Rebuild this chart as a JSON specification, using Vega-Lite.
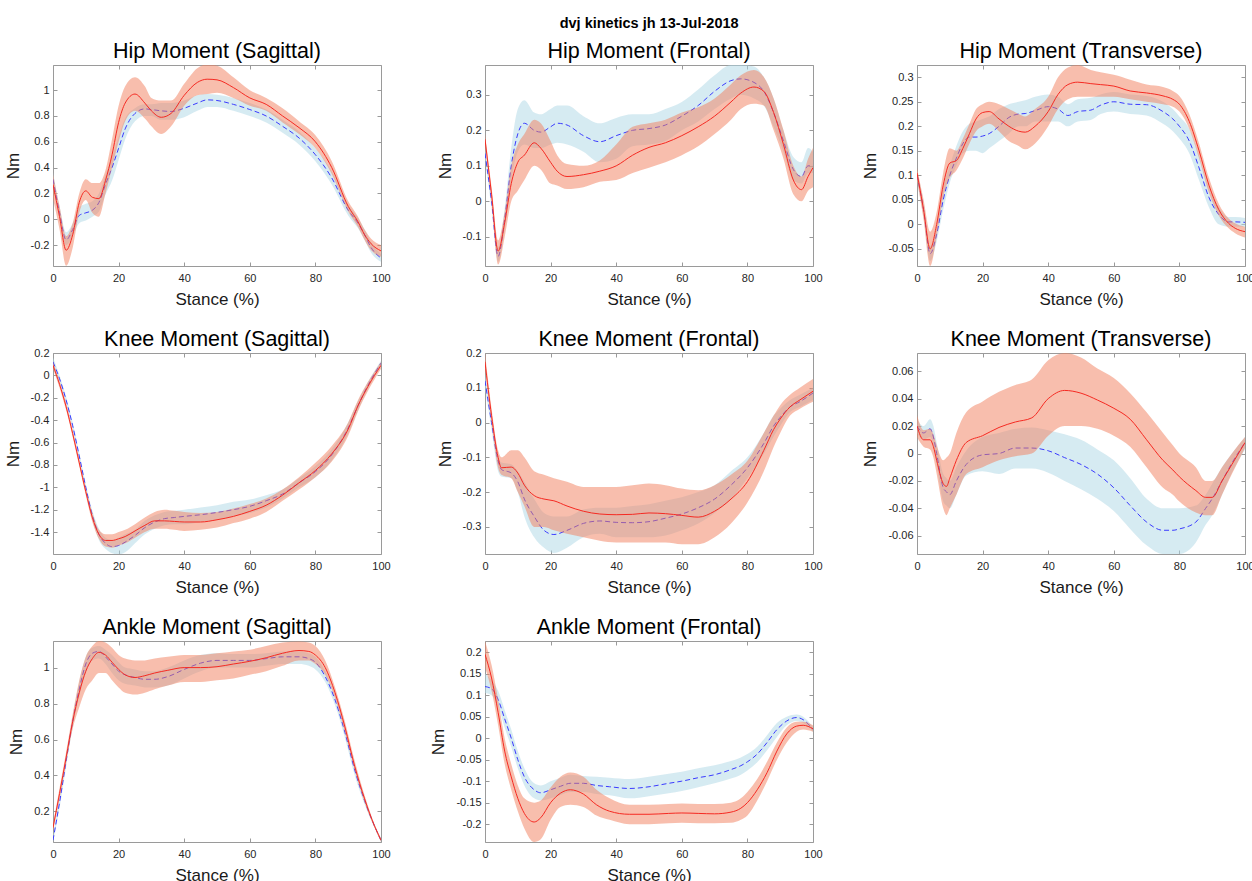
{
"$schema": "https://vega.github.io/schema/vega-lite/v6.json",
"background": "white",
"padding": {"left": 3, "top": 15, "right": 0, "bottom": 0},
"title": {"text": "dvj kinetics jh 13-Jul-2018", "fontSize": 14.5, "fontWeight": "bold", "font": "Liberation Sans", "anchor": "middle", "dx": 20, "offset": 9, "color": "#000"},
"datasets": {
"hs": [
{"x":0,"bm":0.31,"bl":0.26,"bh":0.36,"rm":0.27,"rl":0.16,"rh":0.35},
{"x":2,"bm":0.05,"bl":0.0,"bh":0.1,"rm":0.02,"rl":-0.08,"rh":0.1},
{"x":4,"bm":-0.16,"bl":-0.2,"bh":-0.1,"rm":-0.24,"rl":-0.36,"rh":-0.13},
{"x":6,"bm":-0.08,"bl":-0.13,"bh":-0.03,"rm":-0.12,"rl":-0.22,"rh":-0.03},
{"x":8,"bm":0.03,"bl":-0.03,"bh":0.09,"rm":0.13,"rl":0.05,"rh":0.2},
{"x":10,"bm":0.05,"bl":-0.01,"bh":0.12,"rm":0.22,"rl":0.15,"rh":0.31},
{"x":12,"bm":0.07,"bl":0.02,"bh":0.14,"rm":0.17,"rl":0.05,"rh":0.28},
{"x":14,"bm":0.13,"bl":0.06,"bh":0.2,"rm":0.16,"rl":0.02,"rh":0.28},
{"x":16,"bm":0.27,"bl":0.19,"bh":0.34,"rm":0.3,"rl":0.2,"rh":0.38},
{"x":18,"bm":0.4,"bl":0.3,"bh":0.48,"rm":0.5,"rl":0.4,"rh":0.62},
{"x":20,"bm":0.55,"bl":0.46,"bh":0.64,"rm":0.75,"rl":0.6,"rh":0.88},
{"x":22,"bm":0.7,"bl":0.62,"bh":0.78,"rm":0.9,"rl":0.76,"rh":1.03},
{"x":25,"bm":0.82,"bl":0.76,"bh":0.86,"rm":0.97,"rl":0.84,"rh":1.1},
{"x":28,"bm":0.855,"bl":0.8,"bh":0.89,"rm":0.9,"rl":0.78,"rh":1.03},
{"x":30,"bm":0.85,"bl":0.8,"bh":0.89,"rm":0.84,"rl":0.72,"rh":0.94},
{"x":33,"bm":0.84,"bl":0.77,"bh":0.9,"rm":0.79,"rl":0.66,"rh":0.92},
{"x":36,"bm":0.835,"bl":0.77,"bh":0.9,"rm":0.82,"rl":0.72,"rh":0.92},
{"x":40,"bm":0.86,"bl":0.79,"bh":0.92,"rm":0.96,"rl":0.88,"rh":1.05},
{"x":44,"bm":0.9,"bl":0.84,"bh":0.96,"rm":1.06,"rl":0.96,"rh":1.17},
{"x":47,"bm":0.925,"bl":0.87,"bh":0.97,"rm":1.085,"rl":0.97,"rh":1.2},
{"x":50,"bm":0.92,"bl":0.87,"bh":0.965,"rm":1.08,"rl":0.98,"rh":1.19},
{"x":55,"bm":0.89,"bl":0.84,"bh":0.94,"rm":1.02,"rl":0.94,"rh":1.1},
{"x":60,"bm":0.85,"bl":0.8,"bh":0.9,"rm":0.94,"rl":0.88,"rh":1.0},
{"x":65,"bm":0.8,"bl":0.75,"bh":0.85,"rm":0.89,"rl":0.84,"rh":0.94},
{"x":70,"bm":0.72,"bl":0.67,"bh":0.77,"rm":0.8,"rl":0.75,"rh":0.86},
{"x":75,"bm":0.63,"bl":0.58,"bh":0.68,"rm":0.71,"rl":0.66,"rh":0.76},
{"x":80,"bm":0.5,"bl":0.45,"bh":0.55,"rm":0.6,"rl":0.55,"rh":0.65},
{"x":85,"bm":0.32,"bl":0.27,"bh":0.37,"rm":0.4,"rl":0.35,"rh":0.45},
{"x":90,"bm":0.07,"bl":0.03,"bh":0.11,"rm":0.1,"rl":0.06,"rh":0.14},
{"x":93,"bm":-0.03,"bl":-0.07,"bh":0.01,"rm":-0.02,"rl":-0.06,"rh":0.02},
{"x":95,"bm":-0.12,"bl":-0.16,"bh":-0.08,"rm":-0.12,"rl":-0.16,"rh":-0.08},
{"x":97,"bm":-0.22,"bl":-0.26,"bh":-0.18,"rm":-0.19,"rl":-0.24,"rh":-0.15},
{"x":100,"bm":-0.3,"bl":-0.33,"bh":-0.27,"rm":-0.245,"rl":-0.29,"rh":-0.2}
],
"hf": [
{"x":0,"bm":0.135,"bl":0.12,"bh":0.15,"rm":0.175,"rl":0.16,"rh":0.19},
{"x":2,"bm":0.0,"bl":-0.02,"bh":0.02,"rm":0.02,"rl":0.0,"rh":0.04},
{"x":4,"bm":-0.155,"bl":-0.17,"bh":-0.13,"rm":-0.14,"rl":-0.178,"rh":-0.11},
{"x":6,"bm":-0.05,"bl":-0.08,"bh":-0.02,"rm":-0.06,"rl":-0.1,"rh":-0.03},
{"x":8,"bm":0.1,"bl":0.06,"bh":0.15,"rm":0.05,"rl":0.0,"rh":0.1},
{"x":10,"bm":0.19,"bl":0.14,"bh":0.26,"rm":0.11,"rl":0.03,"rh":0.16},
{"x":12,"bm":0.22,"bl":0.16,"bh":0.285,"rm":0.13,"rl":0.06,"rh":0.19},
{"x":15,"bm":0.2,"bl":0.15,"bh":0.25,"rm":0.165,"rl":0.1,"rh":0.23},
{"x":17,"bm":0.195,"bl":0.15,"bh":0.245,"rm":0.15,"rl":0.09,"rh":0.22},
{"x":20,"bm":0.21,"bl":0.16,"bh":0.26,"rm":0.11,"rl":0.05,"rh":0.17},
{"x":22,"bm":0.22,"bl":0.165,"bh":0.27,"rm":0.085,"rl":0.045,"rh":0.13},
{"x":25,"bm":0.215,"bl":0.16,"bh":0.27,"rm":0.07,"rl":0.035,"rh":0.105},
{"x":30,"bm":0.185,"bl":0.14,"bh":0.24,"rm":0.075,"rl":0.04,"rh":0.1},
{"x":35,"bm":0.168,"bl":0.11,"bh":0.22,"rm":0.085,"rl":0.055,"rh":0.115},
{"x":40,"bm":0.185,"bl":0.12,"bh":0.235,"rm":0.1,"rl":0.06,"rh":0.16},
{"x":45,"bm":0.2,"bl":0.155,"bh":0.245,"rm":0.13,"rl":0.08,"rh":0.21},
{"x":50,"bm":0.205,"bl":0.16,"bh":0.245,"rm":0.152,"rl":0.095,"rh":0.22},
{"x":55,"bm":0.215,"bl":0.17,"bh":0.26,"rm":0.165,"rl":0.11,"rh":0.23},
{"x":60,"bm":0.24,"bl":0.2,"bh":0.28,"rm":0.185,"rl":0.13,"rh":0.25},
{"x":65,"bm":0.27,"bl":0.225,"bh":0.315,"rm":0.21,"rl":0.155,"rh":0.265},
{"x":70,"bm":0.31,"bl":0.26,"bh":0.355,"rm":0.24,"rl":0.19,"rh":0.29},
{"x":75,"bm":0.34,"bl":0.29,"bh":0.384,"rm":0.28,"rl":0.23,"rh":0.33},
{"x":78,"bm":0.345,"bl":0.3,"bh":0.384,"rm":0.305,"rl":0.26,"rh":0.355},
{"x":82,"bm":0.335,"bl":0.29,"bh":0.38,"rm":0.322,"rl":0.275,"rh":0.37},
{"x":85,"bm":0.31,"bl":0.27,"bh":0.35,"rm":0.31,"rl":0.27,"rh":0.35},
{"x":88,"bm":0.25,"bl":0.21,"bh":0.29,"rm":0.25,"rl":0.2,"rh":0.29},
{"x":91,"bm":0.17,"bl":0.14,"bh":0.2,"rm":0.16,"rl":0.12,"rh":0.2},
{"x":94,"bm":0.09,"bl":0.06,"bh":0.125,"rm":0.06,"rl":0.02,"rh":0.1},
{"x":96.5,"bm":0.07,"bl":0.05,"bh":0.11,"rm":0.033,"rl":0.0,"rh":0.07},
{"x":98.5,"bm":0.1,"bl":0.08,"bh":0.15,"rm":0.07,"rl":0.03,"rh":0.12},
{"x":100,"bm":0.1,"bl":0.08,"bh":0.14,"rm":0.095,"rl":0.04,"rh":0.15}
],
"ht": [
{"x":0,"bm":0.1,"bl":0.09,"bh":0.11,"rm":0.105,"rl":0.09,"rh":0.115},
{"x":2,"bm":0.03,"bl":0.015,"bh":0.045,"rm":0.03,"rl":0.01,"rh":0.05},
{"x":4,"bm":-0.06,"bl":-0.075,"bh":-0.045,"rm":-0.05,"rl":-0.085,"rh":-0.015},
{"x":6,"bm":-0.02,"bl":-0.035,"bh":-0.005,"rm":0.0,"rl":-0.025,"rh":0.025},
{"x":8,"bm":0.05,"bl":0.03,"bh":0.075,"rm":0.08,"rl":0.055,"rh":0.105},
{"x":10,"bm":0.1,"bl":0.085,"bh":0.12,"rm":0.125,"rl":0.095,"rh":0.155},
{"x":12,"bm":0.135,"bl":0.12,"bh":0.16,"rm":0.13,"rl":0.11,"rh":0.15},
{"x":14,"bm":0.165,"bl":0.145,"bh":0.19,"rm":0.155,"rl":0.135,"rh":0.175},
{"x":16,"bm":0.178,"bl":0.15,"bh":0.205,"rm":0.185,"rl":0.165,"rh":0.205},
{"x":18,"bm":0.178,"bl":0.15,"bh":0.21,"rm":0.215,"rl":0.19,"rh":0.235},
{"x":20,"bm":0.18,"bl":0.145,"bh":0.215,"rm":0.228,"rl":0.2,"rh":0.245},
{"x":22,"bm":0.185,"bl":0.155,"bh":0.22,"rm":0.23,"rl":0.205,"rh":0.25},
{"x":25,"bm":0.2,"bl":0.17,"bh":0.235,"rm":0.215,"rl":0.19,"rh":0.245},
{"x":28,"bm":0.218,"bl":0.185,"bh":0.245,"rm":0.2,"rl":0.17,"rh":0.235},
{"x":31,"bm":0.225,"bl":0.2,"bh":0.25,"rm":0.19,"rl":0.16,"rh":0.225},
{"x":33,"bm":0.226,"bl":0.2,"bh":0.253,"rm":0.188,"rl":0.153,"rh":0.22},
{"x":36,"bm":0.232,"bl":0.21,"bh":0.26,"rm":0.2,"rl":0.165,"rh":0.235},
{"x":40,"bm":0.24,"bl":0.21,"bh":0.265,"rm":0.23,"rl":0.2,"rh":0.26},
{"x":43,"bm":0.235,"bl":0.21,"bh":0.26,"rm":0.265,"rl":0.235,"rh":0.3},
{"x":46,"bm":0.222,"bl":0.2,"bh":0.245,"rm":0.285,"rl":0.255,"rh":0.32},
{"x":49,"bm":0.23,"bl":0.21,"bh":0.255,"rm":0.29,"rl":0.26,"rh":0.325},
{"x":53,"bm":0.233,"bl":0.213,"bh":0.258,"rm":0.287,"rl":0.26,"rh":0.315},
{"x":56,"bm":0.243,"bl":0.225,"bh":0.265,"rm":0.285,"rl":0.26,"rh":0.31},
{"x":60,"bm":0.25,"bl":0.23,"bh":0.27,"rm":0.282,"rl":0.26,"rh":0.305},
{"x":65,"bm":0.245,"bl":0.225,"bh":0.265,"rm":0.272,"rl":0.255,"rh":0.295},
{"x":70,"bm":0.244,"bl":0.222,"bh":0.262,"rm":0.268,"rl":0.25,"rh":0.285},
{"x":75,"bm":0.23,"bl":0.205,"bh":0.25,"rm":0.262,"rl":0.245,"rh":0.28},
{"x":78,"bm":0.215,"bl":0.19,"bh":0.235,"rm":0.255,"rl":0.24,"rh":0.272},
{"x":80,"bm":0.2,"bl":0.175,"bh":0.22,"rm":0.245,"rl":0.23,"rh":0.262},
{"x":83,"bm":0.17,"bl":0.145,"bh":0.195,"rm":0.21,"rl":0.195,"rh":0.225},
{"x":86,"bm":0.115,"bl":0.09,"bh":0.14,"rm":0.15,"rl":0.135,"rh":0.165},
{"x":89,"bm":0.055,"bl":0.035,"bh":0.075,"rm":0.08,"rl":0.065,"rh":0.095},
{"x":92,"bm":0.02,"bl":0.0,"bh":0.035,"rm":0.03,"rl":0.018,"rh":0.042},
{"x":95,"bm":0.005,"bl":-0.005,"bh":0.015,"rm":0.002,"rl":-0.008,"rh":0.012},
{"x":97,"bm":0.005,"bl":-0.005,"bh":0.015,"rm":-0.008,"rl":-0.018,"rh":0.002},
{"x":100,"bm":0.004,"bl":-0.005,"bh":0.013,"rm":-0.015,"rl":-0.027,"rh":-0.005}
],
"ks": [
{"x":0,"bm":0.12,"bl":0.09,"bh":0.16,"rm":0.09,"rl":0.06,"rh":0.12},
{"x":2,"bm":-0.03,"bl":-0.06,"bh":0.0,"rm":-0.08,"rl":-0.11,"rh":-0.05},
{"x":4,"bm":-0.22,"bl":-0.25,"bh":-0.19,"rm":-0.28,"rl":-0.31,"rh":-0.25},
{"x":6,"bm":-0.45,"bl":-0.48,"bh":-0.42,"rm":-0.52,"rl":-0.55,"rh":-0.49},
{"x":8,"bm":-0.72,"bl":-0.75,"bh":-0.69,"rm":-0.78,"rl":-0.81,"rh":-0.75},
{"x":10,"bm":-1.0,"bl":-1.03,"bh":-0.97,"rm":-1.04,"rl":-1.07,"rh":-1.01},
{"x":12,"bm":-1.25,"bl":-1.29,"bh":-1.21,"rm":-1.27,"rl":-1.31,"rh":-1.23},
{"x":14,"bm":-1.42,"bl":-1.47,"bh":-1.37,"rm":-1.42,"rl":-1.46,"rh":-1.38},
{"x":16,"bm":-1.5,"bl":-1.55,"bh":-1.45,"rm":-1.475,"rl":-1.53,"rh":-1.42},
{"x":18,"bm":-1.53,"bl":-1.59,"bh":-1.47,"rm":-1.475,"rl":-1.54,"rh":-1.42},
{"x":20,"bm":-1.52,"bl":-1.6,"bh":-1.45,"rm":-1.46,"rl":-1.52,"rh":-1.4},
{"x":22,"bm":-1.49,"bl":-1.58,"bh":-1.42,"rm":-1.44,"rl":-1.5,"rh":-1.38},
{"x":25,"bm":-1.43,"bl":-1.5,"bh":-1.38,"rm":-1.39,"rl":-1.45,"rh":-1.33},
{"x":28,"bm":-1.36,"bl":-1.42,"bh":-1.3,"rm":-1.34,"rl":-1.4,"rh":-1.27},
{"x":31,"bm":-1.31,"bl":-1.37,"bh":-1.25,"rm":-1.3,"rl":-1.37,"rh":-1.22},
{"x":34,"bm":-1.28,"bl":-1.34,"bh":-1.22,"rm":-1.3,"rl":-1.37,"rh":-1.2},
{"x":37,"bm":-1.27,"bl":-1.33,"bh":-1.21,"rm":-1.305,"rl":-1.38,"rh":-1.21},
{"x":40,"bm":-1.26,"bl":-1.33,"bh":-1.2,"rm":-1.31,"rl":-1.39,"rh":-1.22},
{"x":45,"bm":-1.245,"bl":-1.31,"bh":-1.18,"rm":-1.31,"rl":-1.38,"rh":-1.23},
{"x":50,"bm":-1.225,"bl":-1.29,"bh":-1.16,"rm":-1.29,"rl":-1.36,"rh":-1.22},
{"x":55,"bm":-1.2,"bl":-1.26,"bh":-1.13,"rm":-1.26,"rl":-1.32,"rh":-1.19},
{"x":60,"bm":-1.17,"bl":-1.23,"bh":-1.11,"rm":-1.215,"rl":-1.28,"rh":-1.15},
{"x":65,"bm":-1.12,"bl":-1.18,"bh":-1.07,"rm":-1.16,"rl":-1.22,"rh":-1.1},
{"x":70,"bm":-1.06,"bl":-1.1,"bh":-1.02,"rm":-1.07,"rl":-1.12,"rh":-1.02},
{"x":75,"bm":-0.96,"bl":-1.0,"bh":-0.92,"rm":-0.96,"rl":-1.02,"rh":-0.91},
{"x":80,"bm":-0.86,"bl":-0.91,"bh":-0.81,"rm":-0.85,"rl":-0.91,"rh":-0.78},
{"x":85,"bm":-0.71,"bl":-0.76,"bh":-0.66,"rm":-0.7,"rl":-0.77,"rh":-0.63},
{"x":90,"bm":-0.47,"bl":-0.52,"bh":-0.42,"rm":-0.48,"rl":-0.54,"rh":-0.42},
{"x":93,"bm":-0.27,"bl":-0.31,"bh":-0.23,"rm":-0.27,"rl":-0.32,"rh":-0.22},
{"x":96,"bm":-0.09,"bl":-0.12,"bh":-0.06,"rm":-0.1,"rl":-0.14,"rh":-0.06},
{"x":100,"bm":0.11,"bl":0.08,"bh":0.13,"rm":0.09,"rl":0.06,"rh":0.12}
],
"kf": [
{"x":0,"bm":0.12,"bl":0.1,"bh":0.14,"rm":0.175,"rl":0.155,"rh":0.2},
{"x":2,"bm":0.0,"bl":-0.02,"bh":0.02,"rm":0.02,"rl":0.0,"rh":0.04},
{"x":4,"bm":-0.11,"bl":-0.14,"bh":-0.1,"rm":-0.1,"rl":-0.13,"rh":-0.08},
{"x":5,"bm":-0.135,"bl":-0.155,"bh":-0.115,"rm":-0.13,"rl":-0.15,"rh":-0.1},
{"x":8,"bm":-0.145,"bl":-0.16,"bh":-0.12,"rm":-0.128,"rl":-0.16,"rh":-0.08},
{"x":10,"bm":-0.17,"bl":-0.2,"bh":-0.14,"rm":-0.145,"rl":-0.2,"rh":-0.08},
{"x":12,"bm":-0.22,"bl":-0.27,"bh":-0.17,"rm":-0.18,"rl":-0.24,"rh":-0.1},
{"x":15,"bm":-0.27,"bl":-0.33,"bh":-0.22,"rm":-0.21,"rl":-0.3,"rh":-0.14},
{"x":18,"bm":-0.31,"bl":-0.36,"bh":-0.26,"rm":-0.22,"rl":-0.3,"rh":-0.15},
{"x":21,"bm":-0.322,"bl":-0.375,"bh":-0.27,"rm":-0.225,"rl":-0.31,"rh":-0.16},
{"x":25,"bm":-0.31,"bl":-0.36,"bh":-0.27,"rm":-0.24,"rl":-0.32,"rh":-0.17},
{"x":30,"bm":-0.29,"bl":-0.33,"bh":-0.25,"rm":-0.255,"rl":-0.33,"rh":-0.185},
{"x":35,"bm":-0.283,"bl":-0.32,"bh":-0.245,"rm":-0.263,"rl":-0.34,"rh":-0.185},
{"x":40,"bm":-0.287,"bl":-0.33,"bh":-0.245,"rm":-0.265,"rl":-0.345,"rh":-0.185},
{"x":45,"bm":-0.288,"bl":-0.33,"bh":-0.24,"rm":-0.264,"rl":-0.345,"rh":-0.18},
{"x":50,"bm":-0.285,"bl":-0.33,"bh":-0.235,"rm":-0.26,"rl":-0.345,"rh":-0.175},
{"x":55,"bm":-0.275,"bl":-0.325,"bh":-0.225,"rm":-0.262,"rl":-0.345,"rh":-0.18},
{"x":60,"bm":-0.263,"bl":-0.31,"bh":-0.215,"rm":-0.267,"rl":-0.35,"rh":-0.19},
{"x":65,"bm":-0.245,"bl":-0.29,"bh":-0.2,"rm":-0.272,"rl":-0.35,"rh":-0.195},
{"x":70,"bm":-0.22,"bl":-0.26,"bh":-0.18,"rm":-0.255,"rl":-0.33,"rh":-0.18},
{"x":75,"bm":-0.18,"bl":-0.22,"bh":-0.14,"rm":-0.22,"rl":-0.29,"rh":-0.15},
{"x":80,"bm":-0.13,"bl":-0.16,"bh":-0.1,"rm":-0.17,"rl":-0.23,"rh":-0.11},
{"x":85,"bm":-0.06,"bl":-0.09,"bh":-0.03,"rm":-0.08,"rl":-0.14,"rh":-0.03},
{"x":88,"bm":-0.01,"bl":-0.04,"bh":0.02,"rm":-0.02,"rl":-0.07,"rh":0.02},
{"x":90,"bm":0.015,"bl":-0.01,"bh":0.04,"rm":0.01,"rl":-0.03,"rh":0.05},
{"x":93,"bm":0.045,"bl":0.03,"bh":0.065,"rm":0.045,"rl":0.02,"rh":0.08},
{"x":96,"bm":0.06,"bl":0.045,"bh":0.08,"rm":0.065,"rl":0.04,"rh":0.1},
{"x":100,"bm":0.085,"bl":0.065,"bh":0.1,"rm":0.09,"rl":0.06,"rh":0.125}
],
"kt": [
{"x":0,"bm":0.02,"bl":0.015,"bh":0.025,"rm":0.02,"rl":0.012,"rh":0.028},
{"x":2,"bm":0.015,"bl":0.01,"bh":0.02,"rm":0.01,"rl":0.005,"rh":0.017},
{"x":4,"bm":0.018,"bl":0.012,"bh":0.025,"rm":0.01,"rl":0.003,"rh":0.018},
{"x":5,"bm":0.012,"bl":0.006,"bh":0.02,"rm":0.005,"rl":-0.003,"rh":0.014},
{"x":6,"bm":0.0,"bl":-0.008,"bh":0.008,"rm":-0.005,"rl":-0.015,"rh":0.006},
{"x":8,"bm":-0.025,"bl":-0.035,"bh":-0.015,"rm":-0.022,"rl":-0.04,"rh":-0.005},
{"x":9,"bm":-0.028,"bl":-0.038,"bh":-0.018,"rm":-0.024,"rl":-0.045,"rh":-0.003},
{"x":10,"bm":-0.03,"bl":-0.04,"bh":-0.02,"rm":-0.018,"rl":-0.04,"rh":0.0},
{"x":12,"bm":-0.02,"bl":-0.03,"bh":-0.01,"rm":-0.005,"rl":-0.03,"rh":0.015},
{"x":15,"bm":-0.008,"bl":-0.016,"bh":0.002,"rm":0.008,"rl":-0.015,"rh":0.03},
{"x":20,"bm":-0.001,"bl":-0.013,"bh":0.012,"rm":0.013,"rl":-0.01,"rh":0.038},
{"x":25,"bm":0.0,"bl":-0.015,"bh":0.015,"rm":0.019,"rl":-0.005,"rh":0.045},
{"x":30,"bm":0.004,"bl":-0.011,"bh":0.018,"rm":0.023,"rl":-0.002,"rh":0.05},
{"x":35,"bm":0.004,"bl":-0.011,"bh":0.019,"rm":0.026,"rl":0.0,"rh":0.054},
{"x":40,"bm":0.002,"bl":-0.014,"bh":0.017,"rm":0.04,"rl":0.013,"rh":0.068},
{"x":45,"bm":-0.003,"bl":-0.02,"bh":0.014,"rm":0.046,"rl":0.02,"rh":0.0733},
{"x":50,"bm":-0.008,"bl":-0.026,"bh":0.01,"rm":0.044,"rl":0.02,"rh":0.07},
{"x":55,"bm":-0.015,"bl":-0.033,"bh":0.003,"rm":0.039,"rl":0.018,"rh":0.062},
{"x":60,"bm":-0.025,"bl":-0.042,"bh":-0.005,"rm":0.033,"rl":0.013,"rh":0.055},
{"x":65,"bm":-0.038,"bl":-0.055,"bh":-0.018,"rm":0.025,"rl":0.005,"rh":0.044},
{"x":70,"bm":-0.05,"bl":-0.067,"bh":-0.033,"rm":0.01,"rl":-0.01,"rh":0.03},
{"x":75,"bm":-0.056,"bl":-0.0733,"bh":-0.04,"rm":-0.005,"rl":-0.025,"rh":0.015},
{"x":78,"bm":-0.056,"bl":-0.0733,"bh":-0.04,"rm":-0.012,"rl":-0.03,"rh":0.006},
{"x":80,"bm":-0.055,"bl":-0.0733,"bh":-0.04,"rm":-0.017,"rl":-0.035,"rh":0.0},
{"x":85,"bm":-0.05,"bl":-0.065,"bh":-0.038,"rm":-0.027,"rl":-0.043,"rh":-0.01},
{"x":88,"bm":-0.04,"bl":-0.052,"bh":-0.03,"rm":-0.032,"rl":-0.045,"rh":-0.02},
{"x":90,"bm":-0.033,"bl":-0.045,"bh":-0.022,"rm":-0.032,"rl":-0.045,"rh":-0.02},
{"x":93,"bm":-0.02,"bl":-0.03,"bh":-0.01,"rm":-0.02,"rl":-0.03,"rh":-0.01},
{"x":96,"bm":-0.007,"bl":-0.014,"bh":0.0,"rm":-0.008,"rl":-0.015,"rh":0.0},
{"x":100,"bm":0.008,"bl":0.003,"bh":0.012,"rm":0.008,"rl":0.004,"rh":0.012}
],
"as": [
{"x":0,"bm":0.04,"bl":0.03,"bh":0.06,"rm":0.11,"rl":0.09,"rh":0.13},
{"x":2,"bm":0.25,"bl":0.22,"bh":0.28,"rm":0.3,"rl":0.27,"rh":0.33},
{"x":4,"bm":0.48,"bl":0.45,"bh":0.51,"rm":0.5,"rl":0.47,"rh":0.53},
{"x":6,"bm":0.7,"bl":0.67,"bh":0.73,"rm":0.7,"rl":0.66,"rh":0.74},
{"x":8,"bm":0.88,"bl":0.84,"bh":0.92,"rm":0.86,"rl":0.78,"rh":0.93},
{"x":10,"bm":1.02,"bl":0.97,"bh":1.06,"rm":0.98,"rl":0.88,"rh":1.06},
{"x":12,"bm":1.08,"bl":1.04,"bh":1.11,"rm":1.05,"rl":0.93,"rh":1.12},
{"x":14,"bm":1.09,"bl":1.05,"bh":1.12,"rm":1.085,"rl":0.97,"rh":1.148},
{"x":16,"bm":1.06,"bl":1.02,"bh":1.1,"rm":1.07,"rl":0.97,"rh":1.14},
{"x":18,"bm":1.02,"bl":0.97,"bh":1.07,"rm":1.03,"rl":0.93,"rh":1.11},
{"x":20,"bm":0.98,"bl":0.93,"bh":1.03,"rm":0.99,"rl":0.89,"rh":1.07},
{"x":22,"bm":0.96,"bl":0.91,"bh":1.0,"rm":0.96,"rl":0.86,"rh":1.05},
{"x":25,"bm":0.945,"bl":0.9,"bh":0.99,"rm":0.945,"rl":0.85,"rh":1.04},
{"x":28,"bm":0.935,"bl":0.89,"bh":0.98,"rm":0.955,"rl":0.86,"rh":1.04},
{"x":31,"bm":0.935,"bl":0.89,"bh":0.98,"rm":0.97,"rl":0.88,"rh":1.05},
{"x":35,"bm":0.95,"bl":0.9,"bh":1.0,"rm":0.985,"rl":0.9,"rh":1.06},
{"x":40,"bm":0.99,"bl":0.94,"bh":1.04,"rm":1.0,"rl":0.92,"rh":1.07},
{"x":45,"bm":1.025,"bl":0.98,"bh":1.07,"rm":1.0,"rl":0.92,"rh":1.07},
{"x":50,"bm":1.04,"bl":1.0,"bh":1.08,"rm":1.005,"rl":0.93,"rh":1.08},
{"x":55,"bm":1.04,"bl":1.0,"bh":1.075,"rm":1.02,"rl":0.94,"rh":1.09},
{"x":60,"bm":1.04,"bl":1.0,"bh":1.075,"rm":1.035,"rl":0.96,"rh":1.1},
{"x":65,"bm":1.05,"bl":1.01,"bh":1.08,"rm":1.055,"rl":0.98,"rh":1.12},
{"x":70,"bm":1.06,"bl":1.02,"bh":1.09,"rm":1.08,"rl":1.01,"rh":1.14},
{"x":75,"bm":1.06,"bl":1.02,"bh":1.09,"rm":1.095,"rl":1.04,"rh":1.145},
{"x":78,"bm":1.05,"bl":1.01,"bh":1.08,"rm":1.09,"rl":1.04,"rh":1.14},
{"x":80,"bm":1.03,"bl":0.99,"bh":1.06,"rm":1.07,"rl":1.02,"rh":1.12},
{"x":83,"bm":0.95,"bl":0.92,"bh":0.98,"rm":1.0,"rl":0.96,"rh":1.04},
{"x":86,"bm":0.82,"bl":0.79,"bh":0.85,"rm":0.86,"rl":0.83,"rh":0.89},
{"x":89,"bm":0.64,"bl":0.61,"bh":0.67,"rm":0.67,"rl":0.64,"rh":0.7},
{"x":92,"bm":0.43,"bl":0.4,"bh":0.46,"rm":0.45,"rl":0.43,"rh":0.48},
{"x":95,"bm":0.26,"bl":0.24,"bh":0.28,"rm":0.27,"rl":0.25,"rh":0.29},
{"x":98,"bm":0.12,"bl":0.11,"bh":0.13,"rm":0.12,"rl":0.11,"rh":0.13},
{"x":100,"bm":0.04,"bl":0.03,"bh":0.05,"rm":0.04,"rl":0.03,"rh":0.05}
],
"af": [
{"x":0,"bm":0.12,"bl":0.105,"bh":0.15,"rm":0.195,"rl":0.165,"rh":0.226},
{"x":2,"bm":0.115,"bl":0.1,"bh":0.135,"rm":0.14,"rl":0.11,"rh":0.17},
{"x":4,"bm":0.09,"bl":0.075,"bh":0.11,"rm":0.06,"rl":0.03,"rh":0.09},
{"x":6,"bm":0.045,"bl":0.025,"bh":0.065,"rm":-0.03,"rl":-0.06,"rh":0.0},
{"x":8,"bm":0.0,"bl":-0.02,"bh":0.02,"rm":-0.09,"rl":-0.12,"rh":-0.06},
{"x":10,"bm":-0.05,"bl":-0.07,"bh":-0.03,"rm":-0.14,"rl":-0.17,"rh":-0.11},
{"x":12,"bm":-0.09,"bl":-0.11,"bh":-0.07,"rm":-0.175,"rl":-0.21,"rh":-0.14},
{"x":15,"bm":-0.12,"bl":-0.14,"bh":-0.105,"rm":-0.195,"rl":-0.2415,"rh":-0.15},
{"x":17,"bm":-0.127,"bl":-0.145,"bh":-0.11,"rm":-0.185,"rl":-0.235,"rh":-0.145},
{"x":20,"bm":-0.12,"bl":-0.14,"bh":-0.1,"rm":-0.15,"rl":-0.19,"rh":-0.115},
{"x":23,"bm":-0.112,"bl":-0.132,"bh":-0.092,"rm":-0.128,"rl":-0.16,"rh":-0.09},
{"x":26,"bm":-0.105,"bl":-0.125,"bh":-0.085,"rm":-0.12,"rl":-0.155,"rh":-0.08},
{"x":30,"bm":-0.105,"bl":-0.125,"bh":-0.088,"rm":-0.13,"rl":-0.16,"rh":-0.09},
{"x":34,"bm":-0.11,"bl":-0.13,"bh":-0.09,"rm":-0.155,"rl":-0.18,"rh":-0.12},
{"x":38,"bm":-0.113,"bl":-0.133,"bh":-0.092,"rm":-0.17,"rl":-0.19,"rh":-0.14},
{"x":44,"bm":-0.117,"bl":-0.14,"bh":-0.095,"rm":-0.177,"rl":-0.2,"rh":-0.155},
{"x":50,"bm":-0.113,"bl":-0.135,"bh":-0.09,"rm":-0.177,"rl":-0.2,"rh":-0.155},
{"x":56,"bm":-0.105,"bl":-0.128,"bh":-0.083,"rm":-0.175,"rl":-0.198,"rh":-0.153},
{"x":60,"bm":-0.1,"bl":-0.123,"bh":-0.078,"rm":-0.174,"rl":-0.197,"rh":-0.152},
{"x":65,"bm":-0.092,"bl":-0.114,"bh":-0.07,"rm":-0.175,"rl":-0.198,"rh":-0.153},
{"x":70,"bm":-0.085,"bl":-0.105,"bh":-0.063,"rm":-0.176,"rl":-0.198,"rh":-0.153},
{"x":75,"bm":-0.073,"bl":-0.094,"bh":-0.053,"rm":-0.172,"rl":-0.197,"rh":-0.15},
{"x":78,"bm":-0.064,"bl":-0.085,"bh":-0.045,"rm":-0.163,"rl":-0.19,"rh":-0.14},
{"x":80,"bm":-0.055,"bl":-0.075,"bh":-0.037,"rm":-0.15,"rl":-0.18,"rh":-0.125},
{"x":83,"bm":-0.037,"bl":-0.056,"bh":-0.02,"rm":-0.12,"rl":-0.145,"rh":-0.095},
{"x":86,"bm":-0.01,"bl":-0.028,"bh":0.007,"rm":-0.08,"rl":-0.1,"rh":-0.055},
{"x":89,"bm":0.02,"bl":0.003,"bh":0.035,"rm":-0.03,"rl":-0.05,"rh":-0.01},
{"x":92,"bm":0.04,"bl":0.03,"bh":0.05,"rm":0.01,"rl":-0.01,"rh":0.025},
{"x":95,"bm":0.048,"bl":0.04,"bh":0.055,"rm":0.028,"rl":0.015,"rh":0.038},
{"x":97,"bm":0.043,"bl":0.035,"bh":0.05,"rm":0.03,"rl":0.02,"rh":0.038},
{"x":100,"bm":0.02,"bl":0.015,"bh":0.026,"rm":0.022,"rl":0.015,"rh":0.03}
]
},
"columns": 3,
"spacing": {"row": 87, "column": 104},
"bounds": "flush",
"concat": [
{"title": {"text": "Hip Moment (Sagittal)", "offset": 2.5}, "width": 328, "height": 201, "data": {"name": "hs"},
 "resolve": {"axis": {"x": "independent", "y": "independent"}},
 "layer": [
  {"mark": {"type": "area", "color": "#add8e6", "opacity": 0.5, "interpolate": "monotone", "clip": true},
   "encoding": {"x": {"field": "x", "type": "quantitative", "scale": {"domain": [0, 100], "nice": false}, "axis": {"values": [0, 20, 40, 60, 80, 100], "title": "Stance (%)", "labelExpr": "'' + datum.value"}},
    "y": {"field": "bl", "type": "quantitative", "scale": {"domain": [-0.362, 1.195], "nice": false, "zero": false}, "axis": {"values": [-0.2, 0, 0.2, 0.4, 0.6, 0.8, 1], "title": "Nm", "labelExpr": "'' + datum.value"}},
    "y2": {"field": "bh"}}},
  {"mark": {"type": "line", "color": "#3a3aff", "strokeDash": [5, 3], "strokeWidth": 1, "interpolate": "monotone", "clip": true},
   "encoding": {"x": {"field": "x", "type": "quantitative", "scale": {"domain": [0, 100], "nice": false}, "axis": {"orient": "top", "values": [0, 20, 40, 60, 80, 100], "labels": false, "title": null}},
    "y": {"field": "bm", "type": "quantitative", "scale": {"domain": [-0.362, 1.195], "nice": false, "zero": false}, "axis": {"orient": "right", "values": [-0.2, 0, 0.2, 0.4, 0.6, 0.8, 1], "labels": false, "title": null}}}},
  {"mark": {"type": "area", "color": "#f27e5c", "opacity": 0.5, "interpolate": "monotone", "clip": true},
   "encoding": {"x": {"field": "x", "type": "quantitative", "scale": {"domain": [0, 100], "nice": false}, "axis": null},
    "y": {"field": "rl", "type": "quantitative", "scale": {"domain": [-0.362, 1.195], "nice": false, "zero": false}, "axis": null},
    "y2": {"field": "rh"}}},
  {"mark": {"type": "line", "color": "#f52a22", "strokeWidth": 1, "interpolate": "monotone", "clip": true},
   "encoding": {"x": {"field": "x", "type": "quantitative", "scale": {"domain": [0, 100], "nice": false}, "axis": null},
    "y": {"field": "rm", "type": "quantitative", "scale": {"domain": [-0.362, 1.195], "nice": false, "zero": false}, "axis": null}}}
 ]},
{"title": {"text": "Hip Moment (Frontal)", "offset": 2.5}, "width": 328, "height": 201, "data": {"name": "hf"},
 "resolve": {"axis": {"x": "independent", "y": "independent"}},
 "layer": [
  {"mark": {"type": "area", "color": "#add8e6", "opacity": 0.5, "interpolate": "monotone", "clip": true},
   "encoding": {"x": {"field": "x", "type": "quantitative", "scale": {"domain": [0, 100], "nice": false}, "axis": {"values": [0, 20, 40, 60, 80, 100], "title": "Stance (%)", "labelExpr": "'' + datum.value"}},
    "y": {"field": "bl", "type": "quantitative", "scale": {"domain": [-0.182, 0.384], "nice": false, "zero": false}, "axis": {"values": [-0.1, 0, 0.1, 0.2, 0.3], "title": "Nm", "labelExpr": "'' + datum.value"}},
    "y2": {"field": "bh"}}},
  {"mark": {"type": "line", "color": "#3a3aff", "strokeDash": [5, 3], "strokeWidth": 1, "interpolate": "monotone", "clip": true},
   "encoding": {"x": {"field": "x", "type": "quantitative", "scale": {"domain": [0, 100], "nice": false}, "axis": {"orient": "top", "values": [0, 20, 40, 60, 80, 100], "labels": false, "title": null}},
    "y": {"field": "bm", "type": "quantitative", "scale": {"domain": [-0.182, 0.384], "nice": false, "zero": false}, "axis": {"orient": "right", "values": [-0.1, 0, 0.1, 0.2, 0.3], "labels": false, "title": null}}}},
  {"mark": {"type": "area", "color": "#f27e5c", "opacity": 0.5, "interpolate": "monotone", "clip": true},
   "encoding": {"x": {"field": "x", "type": "quantitative", "scale": {"domain": [0, 100], "nice": false}, "axis": null},
    "y": {"field": "rl", "type": "quantitative", "scale": {"domain": [-0.182, 0.384], "nice": false, "zero": false}, "axis": null},
    "y2": {"field": "rh"}}},
  {"mark": {"type": "line", "color": "#f52a22", "strokeWidth": 1, "interpolate": "monotone", "clip": true},
   "encoding": {"x": {"field": "x", "type": "quantitative", "scale": {"domain": [0, 100], "nice": false}, "axis": null},
    "y": {"field": "rm", "type": "quantitative", "scale": {"domain": [-0.182, 0.384], "nice": false, "zero": false}, "axis": null}}}
 ]},
{"title": {"text": "Hip Moment (Transverse)", "offset": 2.5}, "width": 328, "height": 201, "data": {"name": "ht"},
 "resolve": {"axis": {"x": "independent", "y": "independent"}},
 "layer": [
  {"mark": {"type": "area", "color": "#add8e6", "opacity": 0.5, "interpolate": "monotone", "clip": true},
   "encoding": {"x": {"field": "x", "type": "quantitative", "scale": {"domain": [0, 100], "nice": false}, "axis": {"values": [0, 20, 40, 60, 80, 100], "title": "Stance (%)", "labelExpr": "'' + datum.value"}},
    "y": {"field": "bl", "type": "quantitative", "scale": {"domain": [-0.085, 0.325], "nice": false, "zero": false}, "axis": {"values": [-0.05, 0, 0.05, 0.1, 0.15, 0.2, 0.25, 0.3], "title": "Nm", "labelExpr": "'' + datum.value"}},
    "y2": {"field": "bh"}}},
  {"mark": {"type": "line", "color": "#3a3aff", "strokeDash": [5, 3], "strokeWidth": 1, "interpolate": "monotone", "clip": true},
   "encoding": {"x": {"field": "x", "type": "quantitative", "scale": {"domain": [0, 100], "nice": false}, "axis": {"orient": "top", "values": [0, 20, 40, 60, 80, 100], "labels": false, "title": null}},
    "y": {"field": "bm", "type": "quantitative", "scale": {"domain": [-0.085, 0.325], "nice": false, "zero": false}, "axis": {"orient": "right", "values": [-0.05, 0, 0.05, 0.1, 0.15, 0.2, 0.25, 0.3], "labels": false, "title": null}}}},
  {"mark": {"type": "area", "color": "#f27e5c", "opacity": 0.5, "interpolate": "monotone", "clip": true},
   "encoding": {"x": {"field": "x", "type": "quantitative", "scale": {"domain": [0, 100], "nice": false}, "axis": null},
    "y": {"field": "rl", "type": "quantitative", "scale": {"domain": [-0.085, 0.325], "nice": false, "zero": false}, "axis": null},
    "y2": {"field": "rh"}}},
  {"mark": {"type": "line", "color": "#f52a22", "strokeWidth": 1, "interpolate": "monotone", "clip": true},
   "encoding": {"x": {"field": "x", "type": "quantitative", "scale": {"domain": [0, 100], "nice": false}, "axis": null},
    "y": {"field": "rm", "type": "quantitative", "scale": {"domain": [-0.085, 0.325], "nice": false, "zero": false}, "axis": null}}}
 ]},
{"title": {"text": "Knee Moment (Sagittal)", "offset": -3.5}, "width": 328, "height": 201, "data": {"name": "ks"},
 "resolve": {"axis": {"x": "independent", "y": "independent"}},
 "layer": [
  {"mark": {"type": "area", "color": "#add8e6", "opacity": 0.5, "interpolate": "monotone", "clip": true},
   "encoding": {"x": {"field": "x", "type": "quantitative", "scale": {"domain": [0, 100], "nice": false}, "axis": {"values": [0, 20, 40, 60, 80, 100], "title": "Stance (%)", "labelExpr": "'' + datum.value"}},
    "y": {"field": "bl", "type": "quantitative", "scale": {"domain": [-1.596, 0.2], "nice": false, "zero": false}, "axis": {"values": [-1.4, -1.2, -1, -0.8, -0.6, -0.4, -0.2, 0, 0.2], "title": "Nm", "labelExpr": "'' + datum.value"}},
    "y2": {"field": "bh"}}},
  {"mark": {"type": "line", "color": "#3a3aff", "strokeDash": [5, 3], "strokeWidth": 1, "interpolate": "monotone", "clip": true},
   "encoding": {"x": {"field": "x", "type": "quantitative", "scale": {"domain": [0, 100], "nice": false}, "axis": {"orient": "top", "values": [0, 20, 40, 60, 80, 100], "labels": false, "title": null}},
    "y": {"field": "bm", "type": "quantitative", "scale": {"domain": [-1.596, 0.2], "nice": false, "zero": false}, "axis": {"orient": "right", "values": [-1.4, -1.2, -1, -0.8, -0.6, -0.4, -0.2, 0, 0.2], "labels": false, "title": null}}}},
  {"mark": {"type": "area", "color": "#f27e5c", "opacity": 0.5, "interpolate": "monotone", "clip": true},
   "encoding": {"x": {"field": "x", "type": "quantitative", "scale": {"domain": [0, 100], "nice": false}, "axis": null},
    "y": {"field": "rl", "type": "quantitative", "scale": {"domain": [-1.596, 0.2], "nice": false, "zero": false}, "axis": null},
    "y2": {"field": "rh"}}},
  {"mark": {"type": "line", "color": "#f52a22", "strokeWidth": 1, "interpolate": "monotone", "clip": true},
   "encoding": {"x": {"field": "x", "type": "quantitative", "scale": {"domain": [0, 100], "nice": false}, "axis": null},
    "y": {"field": "rm", "type": "quantitative", "scale": {"domain": [-1.596, 0.2], "nice": false, "zero": false}, "axis": null}}}
 ]},
{"title": {"text": "Knee Moment (Frontal)", "offset": -3.5}, "width": 328, "height": 201, "data": {"name": "kf"},
 "resolve": {"axis": {"x": "independent", "y": "independent"}},
 "layer": [
  {"mark": {"type": "area", "color": "#add8e6", "opacity": 0.5, "interpolate": "monotone", "clip": true},
   "encoding": {"x": {"field": "x", "type": "quantitative", "scale": {"domain": [0, 100], "nice": false}, "axis": {"values": [0, 20, 40, 60, 80, 100], "title": "Stance (%)", "labelExpr": "'' + datum.value"}},
    "y": {"field": "bl", "type": "quantitative", "scale": {"domain": [-0.378, 0.2], "nice": false, "zero": false}, "axis": {"values": [-0.3, -0.2, -0.1, 0, 0.1, 0.2], "title": "Nm", "labelExpr": "'' + datum.value"}},
    "y2": {"field": "bh"}}},
  {"mark": {"type": "line", "color": "#3a3aff", "strokeDash": [5, 3], "strokeWidth": 1, "interpolate": "monotone", "clip": true},
   "encoding": {"x": {"field": "x", "type": "quantitative", "scale": {"domain": [0, 100], "nice": false}, "axis": {"orient": "top", "values": [0, 20, 40, 60, 80, 100], "labels": false, "title": null}},
    "y": {"field": "bm", "type": "quantitative", "scale": {"domain": [-0.378, 0.2], "nice": false, "zero": false}, "axis": {"orient": "right", "values": [-0.3, -0.2, -0.1, 0, 0.1, 0.2], "labels": false, "title": null}}}},
  {"mark": {"type": "area", "color": "#f27e5c", "opacity": 0.5, "interpolate": "monotone", "clip": true},
   "encoding": {"x": {"field": "x", "type": "quantitative", "scale": {"domain": [0, 100], "nice": false}, "axis": null},
    "y": {"field": "rl", "type": "quantitative", "scale": {"domain": [-0.378, 0.2], "nice": false, "zero": false}, "axis": null},
    "y2": {"field": "rh"}}},
  {"mark": {"type": "line", "color": "#f52a22", "strokeWidth": 1, "interpolate": "monotone", "clip": true},
   "encoding": {"x": {"field": "x", "type": "quantitative", "scale": {"domain": [0, 100], "nice": false}, "axis": null},
    "y": {"field": "rm", "type": "quantitative", "scale": {"domain": [-0.378, 0.2], "nice": false, "zero": false}, "axis": null}}}
 ]},
{"title": {"text": "Knee Moment (Transverse)", "offset": 2.5}, "width": 328, "height": 201, "data": {"name": "kt"},
 "resolve": {"axis": {"x": "independent", "y": "independent"}},
 "layer": [
  {"mark": {"type": "area", "color": "#add8e6", "opacity": 0.5, "interpolate": "monotone", "clip": true},
   "encoding": {"x": {"field": "x", "type": "quantitative", "scale": {"domain": [0, 100], "nice": false}, "axis": {"values": [0, 20, 40, 60, 80, 100], "title": "Stance (%)", "labelExpr": "'' + datum.value"}},
    "y": {"field": "bl", "type": "quantitative", "scale": {"domain": [-0.0733, 0.0733], "nice": false, "zero": false}, "axis": {"values": [-0.06, -0.04, -0.02, 0, 0.02, 0.04, 0.06], "title": "Nm", "labelExpr": "'' + datum.value"}},
    "y2": {"field": "bh"}}},
  {"mark": {"type": "line", "color": "#3a3aff", "strokeDash": [5, 3], "strokeWidth": 1, "interpolate": "monotone", "clip": true},
   "encoding": {"x": {"field": "x", "type": "quantitative", "scale": {"domain": [0, 100], "nice": false}, "axis": {"orient": "top", "values": [0, 20, 40, 60, 80, 100], "labels": false, "title": null}},
    "y": {"field": "bm", "type": "quantitative", "scale": {"domain": [-0.0733, 0.0733], "nice": false, "zero": false}, "axis": {"orient": "right", "values": [-0.06, -0.04, -0.02, 0, 0.02, 0.04, 0.06], "labels": false, "title": null}}}},
  {"mark": {"type": "area", "color": "#f27e5c", "opacity": 0.5, "interpolate": "monotone", "clip": true},
   "encoding": {"x": {"field": "x", "type": "quantitative", "scale": {"domain": [0, 100], "nice": false}, "axis": null},
    "y": {"field": "rl", "type": "quantitative", "scale": {"domain": [-0.0733, 0.0733], "nice": false, "zero": false}, "axis": null},
    "y2": {"field": "rh"}}},
  {"mark": {"type": "line", "color": "#f52a22", "strokeWidth": 1, "interpolate": "monotone", "clip": true},
   "encoding": {"x": {"field": "x", "type": "quantitative", "scale": {"domain": [0, 100], "nice": false}, "axis": null},
    "y": {"field": "rm", "type": "quantitative", "scale": {"domain": [-0.0733, 0.0733], "nice": false, "zero": false}, "axis": null}}}
 ]},
{"title": {"text": "Ankle Moment (Sagittal)", "offset": 2.5}, "width": 328, "height": 201, "data": {"name": "as"},
 "resolve": {"axis": {"x": "independent", "y": "independent"}},
 "layer": [
  {"mark": {"type": "area", "color": "#add8e6", "opacity": 0.5, "interpolate": "monotone", "clip": true},
   "encoding": {"x": {"field": "x", "type": "quantitative", "scale": {"domain": [0, 100], "nice": false}, "axis": {"values": [0, 20, 40, 60, 80, 100], "title": "Stance (%)", "labelExpr": "'' + datum.value"}},
    "y": {"field": "bl", "type": "quantitative", "scale": {"domain": [0.03, 1.148], "nice": false, "zero": false}, "axis": {"values": [0.2, 0.4, 0.6, 0.8, 1], "title": "Nm", "labelExpr": "'' + datum.value"}},
    "y2": {"field": "bh"}}},
  {"mark": {"type": "line", "color": "#3a3aff", "strokeDash": [5, 3], "strokeWidth": 1, "interpolate": "monotone", "clip": true},
   "encoding": {"x": {"field": "x", "type": "quantitative", "scale": {"domain": [0, 100], "nice": false}, "axis": {"orient": "top", "values": [0, 20, 40, 60, 80, 100], "labels": false, "title": null}},
    "y": {"field": "bm", "type": "quantitative", "scale": {"domain": [0.03, 1.148], "nice": false, "zero": false}, "axis": {"orient": "right", "values": [0.2, 0.4, 0.6, 0.8, 1], "labels": false, "title": null}}}},
  {"mark": {"type": "area", "color": "#f27e5c", "opacity": 0.5, "interpolate": "monotone", "clip": true},
   "encoding": {"x": {"field": "x", "type": "quantitative", "scale": {"domain": [0, 100], "nice": false}, "axis": null},
    "y": {"field": "rl", "type": "quantitative", "scale": {"domain": [0.03, 1.148], "nice": false, "zero": false}, "axis": null},
    "y2": {"field": "rh"}}},
  {"mark": {"type": "line", "color": "#f52a22", "strokeWidth": 1, "interpolate": "monotone", "clip": true},
   "encoding": {"x": {"field": "x", "type": "quantitative", "scale": {"domain": [0, 100], "nice": false}, "axis": null},
    "y": {"field": "rm", "type": "quantitative", "scale": {"domain": [0.03, 1.148], "nice": false, "zero": false}, "axis": null}}}
 ]},
{"title": {"text": "Ankle Moment (Frontal)", "offset": 2.5}, "width": 328, "height": 201, "data": {"name": "af"},
 "resolve": {"axis": {"x": "independent", "y": "independent"}},
 "layer": [
  {"mark": {"type": "area", "color": "#add8e6", "opacity": 0.5, "interpolate": "monotone", "clip": true},
   "encoding": {"x": {"field": "x", "type": "quantitative", "scale": {"domain": [0, 100], "nice": false}, "axis": {"values": [0, 20, 40, 60, 80, 100], "title": "Stance (%)", "labelExpr": "'' + datum.value"}},
    "y": {"field": "bl", "type": "quantitative", "scale": {"domain": [-0.2415, 0.226], "nice": false, "zero": false}, "axis": {"values": [-0.2, -0.15, -0.1, -0.05, 0, 0.05, 0.1, 0.15, 0.2], "title": "Nm", "labelExpr": "'' + datum.value"}},
    "y2": {"field": "bh"}}},
  {"mark": {"type": "line", "color": "#3a3aff", "strokeDash": [5, 3], "strokeWidth": 1, "interpolate": "monotone", "clip": true},
   "encoding": {"x": {"field": "x", "type": "quantitative", "scale": {"domain": [0, 100], "nice": false}, "axis": {"orient": "top", "values": [0, 20, 40, 60, 80, 100], "labels": false, "title": null}},
    "y": {"field": "bm", "type": "quantitative", "scale": {"domain": [-0.2415, 0.226], "nice": false, "zero": false}, "axis": {"orient": "right", "values": [-0.2, -0.15, -0.1, -0.05, 0, 0.05, 0.1, 0.15, 0.2], "labels": false, "title": null}}}},
  {"mark": {"type": "area", "color": "#f27e5c", "opacity": 0.5, "interpolate": "monotone", "clip": true},
   "encoding": {"x": {"field": "x", "type": "quantitative", "scale": {"domain": [0, 100], "nice": false}, "axis": null},
    "y": {"field": "rl", "type": "quantitative", "scale": {"domain": [-0.2415, 0.226], "nice": false, "zero": false}, "axis": null},
    "y2": {"field": "rh"}}},
  {"mark": {"type": "line", "color": "#f52a22", "strokeWidth": 1, "interpolate": "monotone", "clip": true},
   "encoding": {"x": {"field": "x", "type": "quantitative", "scale": {"domain": [0, 100], "nice": false}, "axis": null},
    "y": {"field": "rm", "type": "quantitative", "scale": {"domain": [-0.2415, 0.226], "nice": false, "zero": false}, "axis": null}}}
 ]}
],
"config": {
 "font": "Liberation Sans",
 "view": {"stroke": "#9a9a9a", "strokeWidth": 1},
 "axis": {"grid": false, "domain": false, "tickSize": -4, "tickColor": "#9a9a9a", "tickWidth": 1, "labelFont": "Liberation Sans", "labelFontSize": 11, "labelColor": "#262626", "labelPadding": 8, "labelFlush": false, "labelOverlap": false, "titleFont": "Liberation Sans", "titleFontSize": 17, "titleFontWeight": "normal", "titleColor": "#1a1a1a", "titlePadding": 8},
 "axisX": {"labelPadding": 10},
 "title": {"font": "Liberation Sans", "fontSize": 21.5, "fontWeight": "normal", "color": "#000"}
}
}
